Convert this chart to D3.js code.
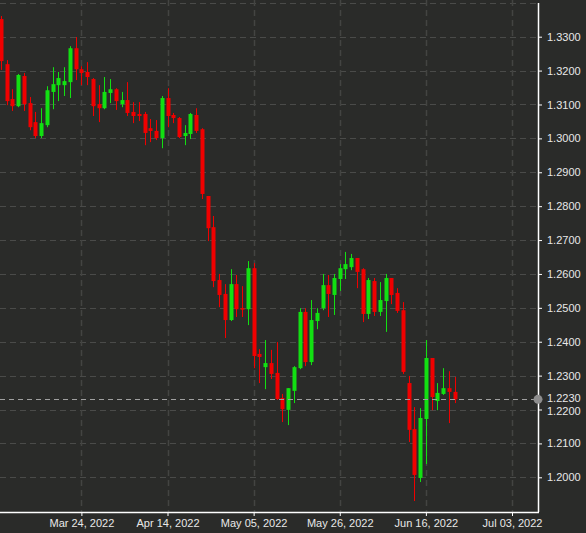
<!DOCTYPE html>
<html>
<head>
<meta charset="utf-8">
<script src="https://cdn.jsdelivr.net/npm/d3@7"></script>
<style>
  body { margin: 0; background: #2a2b29; }
  svg { display: block; }
</style>
</head>
<body>
<svg id="chart"></svg>
<script>
// daily candles, one per trading day from Mar 04, 2022
const opens = [1.3352, 1.3219, 1.3116, 1.3095, 1.3184, 1.3104, 1.3048, 1.3007, 1.3039, 1.3137,
  1.3157, 1.3157, 1.3166, 1.3266, 1.3204, 1.3196, 1.3175, 1.3101, 1.3089, 1.3134,
  1.3145, 1.3101, 1.3113, 1.3078, 1.3072, 1.3072, 1.3030, 1.3022, 1.3001, 1.3119,
  1.3069, 1.3060, 1.3007, 1.3013, 1.3069, 1.3027, 1.2830, 1.2738, 1.2582, 1.2541,
  1.2464, 1.2570, 1.2499, 1.2496, 1.2617, 1.2364, 1.2325, 1.2337, 1.2308, 1.2234,
  1.2199, 1.2255, 1.2322, 1.2488, 1.2340, 1.2461, 1.2499, 1.2567, 1.2538, 1.2585,
  1.2614, 1.2620, 1.2647, 1.2614, 1.2482, 1.2579, 1.2488, 1.2520, 1.2588, 1.2544,
  1.2493, 1.2278, 1.2142, 1.1998, 1.2172, 1.2352, 1.2225, 1.2246, 1.2263, 1.2252];
const highs = [1.3361, 1.3231, 1.3145, 1.3190, 1.3193, 1.3122, 1.3078, 1.3089, 1.3154, 1.3210,
  1.3196, 1.3210, 1.3272, 1.3299, 1.3213, 1.3225, 1.3178, 1.3157, 1.3181, 1.3175,
  1.3148, 1.3137, 1.3166, 1.3107, 1.3107, 1.3078, 1.3057, 1.3054, 1.3125, 1.3148,
  1.3075, 1.3063, 1.3039, 1.3075, 1.3089, 1.3030, 1.2830, 1.2771, 1.2600, 1.2570,
  1.2614, 1.2597, 1.2564, 1.2638, 1.2632, 1.2378, 1.2405, 1.2376, 1.2399, 1.2246,
  1.2263, 1.2328, 1.2499, 1.2499, 1.2523, 1.2499, 1.2600, 1.2597, 1.2600, 1.2629,
  1.2665, 1.2659, 1.2647, 1.2617, 1.2588, 1.2588, 1.2576, 1.2600, 1.2588, 1.2558,
  1.2517, 1.2299, 1.2207, 1.2204, 1.2405, 1.2352, 1.2278, 1.2322, 1.2313, 1.2296];
const lows = [1.3202, 1.3098, 1.3081, 1.3092, 1.3081, 1.3024, 1.3001, 1.3001, 1.3033, 1.3086,
  1.3110, 1.3125, 1.3119, 1.3172, 1.3157, 1.3157, 1.3066, 1.3048, 1.3086, 1.3104,
  1.3084, 1.3092, 1.3066, 1.3045, 1.3051, 1.2980, 1.2989, 1.2995, 1.2971, 1.3033,
  1.3045, 1.3001, 1.2980, 1.2998, 1.3016, 1.2821, 1.2697, 1.2561, 1.2502, 1.2411,
  1.2461, 1.2473, 1.2473, 1.2449, 1.2322, 1.2278, 1.2260, 1.2290, 1.2228, 1.2163,
  1.2154, 1.2219, 1.2319, 1.2328, 1.2331, 1.2437, 1.2493, 1.2473, 1.2479, 1.2550,
  1.2585, 1.2611, 1.2558, 1.2458, 1.2467, 1.2476, 1.2476, 1.2429, 1.2511, 1.2485,
  1.2305, 1.2104, 1.1930, 1.1986, 1.2039, 1.2198, 1.2198, 1.2243, 1.2160, 1.2219];
const closes = [1.3228, 1.3110, 1.3095, 1.3187, 1.3101, 1.3033, 1.3007, 1.3045, 1.3142, 1.3160,
  1.3178, 1.3169, 1.3266, 1.3204, 1.3193, 1.3181, 1.3095, 1.3089, 1.3137, 1.3145,
  1.3110, 1.3113, 1.3075, 1.3066, 1.3066, 1.3016, 1.3022, 1.3001, 1.3119, 1.3066,
  1.3060, 1.3004, 1.3016, 1.3072, 1.3022, 1.2836, 1.2735, 1.2579, 1.2538, 1.2464,
  1.2570, 1.2496, 1.2496, 1.2617, 1.2358, 1.2355, 1.2337, 1.2305, 1.2231, 1.2201,
  1.2263, 1.2325, 1.2488, 1.2340, 1.2464, 1.2485, 1.2567, 1.2541, 1.2588, 1.2617,
  1.2629, 1.2647, 1.2606, 1.2482, 1.2582, 1.2488, 1.2523, 1.2588, 1.2538, 1.2491,
  1.2311, 1.2140, 1.2007, 1.2175, 1.2352, 1.2237, 1.2249, 1.2263, 1.2252, 1.2230];

// x axis labels and the trading-day slot they sit on
const dateLabels = ["Mar 24, 2022", "Apr 14, 2022", "May 05, 2022", "May 26, 2022", "Jun 16, 2022", "Jul 03, 2022"];
const dateSlots = [14, 29, 44, 59, 74, 89];

const priceTicks = [1.20, 1.21, 1.22, 1.23, 1.24, 1.25, 1.26, 1.27, 1.28, 1.29, 1.30, 1.31, 1.32, 1.33];

const width = 586;
const height = 533;
const plotRight = 538;
const plotBottom = 512;
const fontFamily = '"Liberation Sans", Arial, sans-serif';

const svg = d3.select('#chart')
    .attr('width', width)
    .attr('height', height)
    .style('font-family', fontFamily);

svg.append('rect')
    .attr('width', width)
    .attr('height', height)
    .attr('fill', '#2a2b29');

const x = d3.scaleLinear().domain([0, 89]).range([1, 512]);
const y = d3.scaleLinear().domain([1.20, 1.33]).range([477.3, 36.7]);

const candles = opens.map((o, i) => ({ i, o, h: highs[i], l: lows[i], c: closes[i] }));

// grid
const grid = svg.append('g');
grid.selectAll('line.h')
    .data(priceTicks.concat([1.34]))
    .join('line')
    .attr('x1', 0).attr('x2', plotRight)
    .attr('y1', d => Math.round(y(d)) + 0.5)
    .attr('y2', d => Math.round(y(d)) + 0.5)
    .attr('stroke', '#4a4b49')
    .attr('stroke-dasharray', '6,4');

grid.selectAll('line.v')
    .data(dateSlots)
    .join('line')
    .attr('x1', d => Math.round(x(d)) + 0.5)
    .attr('x2', d => Math.round(x(d)) + 0.5)
    .attr('y1', 0).attr('y2', plotBottom)
    .attr('stroke', '#434442')
    .attr('stroke-width', 1.5)
    .attr('stroke-dasharray', '6,4');

// candles
const g = svg.append('g');
const colorOf = d => d.c >= d.o ? '#12e012' : '#f00000';

g.selectAll('line.wick')
    .data(candles)
    .join('line')
    .attr('x1', d => Math.round(x(d.i)) + 0.5)
    .attr('x2', d => Math.round(x(d.i)) + 0.5)
    .attr('y1', d => y(d.h))
    .attr('y2', d => y(d.l))
    .attr('stroke', colorOf)
    .attr('stroke-width', 1);

g.selectAll('rect.body')
    .data(candles)
    .join('rect')
    .attr('x', d => Math.round(x(d.i)) - 1.5)
    .attr('width', 4)
    .attr('y', d => y(Math.max(d.o, d.c)))
    .attr('height', d => Math.max(1.5, Math.abs(y(d.o) - y(d.c))))
    .attr('fill', colorOf);

// last price line
const last = closes[closes.length - 1];
svg.append('line')
    .attr('x1', 0).attr('x2', plotRight)
    .attr('y1', Math.round(y(last)) + 0.5)
    .attr('y2', Math.round(y(last)) + 0.5)
    .attr('stroke', '#a0a0a0')
    .attr('stroke-dasharray', '5,4');

// axes
const yAxis = svg.append('g')
    .attr('transform', `translate(${plotRight},0)`)
    .call(d3.axisRight(y).tickValues(priceTicks.concat([last])).tickFormat(d3.format('.4f')).tickSize(4).tickPadding(5));
yAxis.select('.domain').remove();

const xAxis = svg.append('g')
    .attr('transform', `translate(0,${plotBottom})`)
    .call(d3.axisBottom(x).tickValues(dateSlots).tickFormat((d, i) => dateLabels[i]).tickSize(4).tickPadding(3));
xAxis.select('.domain').remove();

[yAxis, xAxis].forEach(a => {
    a.selectAll('line').attr('stroke', '#ffffff');
    a.selectAll('text').attr('fill', '#e8e8e8').style('font-size', '11px').style('font-family', fontFamily);
});

// the last price label sits right on top of 1.2200, pull them apart a touch
yAxis.selectAll('.tick text')
    .attr('dy', d => d === last ? '0.2em' : (Math.abs(d - 1.22) < 1e-9 ? '0.42em' : '0.32em'));

svg.append('line')
    .attr('x1', plotRight + 0.5).attr('x2', plotRight + 0.5)
    .attr('y1', 3).attr('y2', plotBottom)
    .attr('stroke', '#ffffff').attr('stroke-width', 1.5);
svg.append('line')
    .attr('x1', 0).attr('x2', plotRight + 1)
    .attr('y1', plotBottom + 0.5).attr('y2', plotBottom + 0.5)
    .attr('stroke', '#ffffff').attr('stroke-width', 1.5);

svg.append('circle')
    .attr('cx', plotRight)
    .attr('cy', y(last))
    .attr('r', 4.5)
    .attr('fill', '#8d8d8d');
</script>
</body>
</html>
